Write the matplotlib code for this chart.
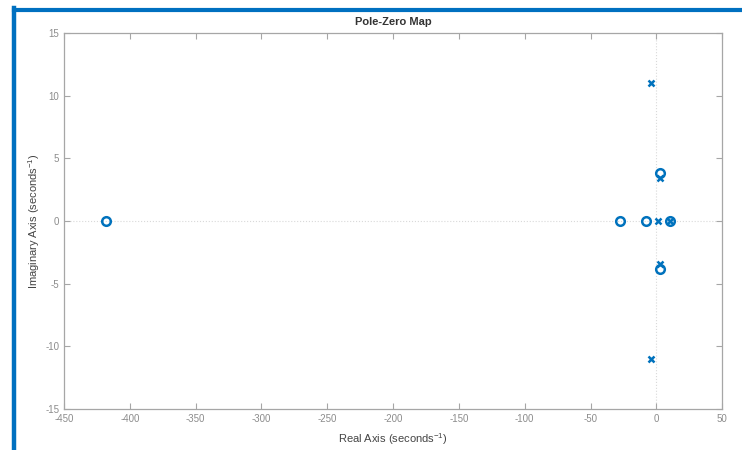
"""Pole-zero map of the closed-loop system, drawn in the MATLAB pzmap style."""
import matplotlib

matplotlib.use("Agg")

import matplotlib.pyplot as plt  # noqa: E402
from matplotlib.lines import Line2D  # noqa: E402

plt.rcParams["font.family"] = ["Liberation Sans", "DejaVu Sans"]
plt.rcParams["axes.unicode_minus"] = False
plt.rcParams["mathtext.fontset"] = "custom"
plt.rcParams["mathtext.rm"] = "Liberation Sans"

# zeros (o) and poles (x), real and imaginary parts in seconds^-1
ZERO_RE = [-418, -27.5, -8, 10, 3, 3]
ZERO_IM = [0, 0, 0, 0, 3.8, -3.85]
POLE_RE = [-4, -4, 1.5, 10, 3, 3]
POLE_IM = [11, -11, 0, 0, 3.4, -3.4]

X_TICKS = list(range(-450, 51, 50))
Y_TICKS = list(range(-15, 16, 5))

BLUE = "#0072BD"
AXIS_GRAY = "#a6a6a6"
TICK_GRAY = "#8c8c8c"

fig = plt.figure(figsize=(7.42, 4.5), dpi=100)
ax = fig.add_axes([0.0863, 0.0911, 0.887, 0.8356])

# dotted reference lines through the origin
ax.axhline(0, color="#d9d9d9", lw=0.8, ls=":", zorder=1)
ax.axvline(0, color="#d9d9d9", lw=0.8, ls=":", zorder=1)

ax.plot(ZERO_RE, ZERO_IM, ls="none", marker="o", ms=6.2, mew=1.8,
        mfc="none", mec=BLUE, zorder=3)
ax.plot(POLE_RE, POLE_IM, ls="none", marker="x", ms=5, mew=1.8,
        color=BLUE, zorder=3)

ax.set_xlim(-450, 50)
ax.set_ylim(-15, 15)
ax.set_xticks(X_TICKS)
ax.set_yticks(Y_TICKS)
ax.tick_params(direction="in", length=4, width=0.8, colors=AXIS_GRAY,
               labelcolor=TICK_GRAY, labelsize=7, top=True, right=True)
for spine in ax.spines.values():
    spine.set_color(AXIS_GRAY)
    spine.set_linewidth(0.9)

ax.set_title("Pole-Zero Map", fontsize=8, fontweight="bold",
             color="#333333", pad=6)
ax.set_xlabel("Real Axis (seconds$^{-1}$)", fontsize=8, color="#444444",
              labelpad=5)
ax.set_ylabel("Imaginary Axis (seconds$^{-1}$)", fontsize=8, color="#444444",
              labelpad=2)

# blue frame along the top and left edges of the figure
fig.add_artist(Line2D([14 / 742, 1.0], [1 - 9.5 / 450] * 2,
                      transform=fig.transFigure, color="#0070C0", lw=3))
fig.add_artist(Line2D([14 / 742] * 2, [0.0, 1 - 8 / 450],
                      transform=fig.transFigure, color="#0070C0", lw=3.2))

fig.savefig("out.png", dpi=100)
